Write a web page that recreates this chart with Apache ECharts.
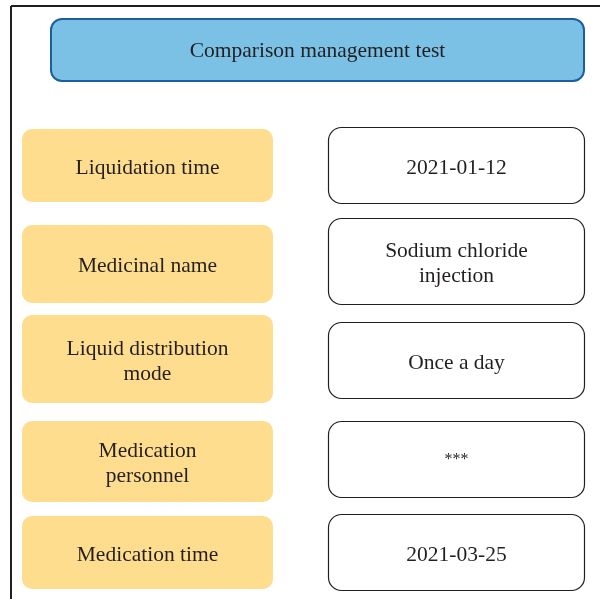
<!DOCTYPE html>
<html>
<head>
<meta charset="utf-8">
<script src="https://cdn.jsdelivr.net/npm/echarts@6/dist/echarts.min.js"></script>
<style>
  html, body { margin: 0; padding: 0; background: #fff; }
  #main { width: 600px; height: 599px; }
</style>
</head>
<body>
<div id="main"></div>
<script>
// diagram text
const titleText = 'Comparison management test';
const itemNames = ['Liquidation time', 'Medicinal name', 'Liquid distribution\nmode', 'Medication\npersonnel', 'Medication time'];
const itemValues = ['2021-01-12', 'Sodium chloride\ninjection', 'Once a day', '***', '2021-03-25'];

// layout (pixels)
const leftBox = { x: 22, w: 251 };
const rightBox = { x: 328, w: 256 };
const leftRows = [[129, 202], [225, 303], [315, 403], [421, 502], [516, 589]];
const rightRows = [[127, 203], [218, 304], [322, 398], [421, 497], [514, 590]];

const font = '"Liberation Serif", "DejaVu Serif", serif';
const fontSize = '21.5px ';
const textColor = '#231f20';

const chart = echarts.init(document.getElementById('main'));

let elements = [
  // frame
  { type: 'line', shape: { x1: 11, y1: 6, x2: 600, y2: 6 }, style: { stroke: textColor, lineWidth: 2 } },
  { type: 'line', shape: { x1: 11, y1: 6, x2: 11, y2: 599 }, style: { stroke: textColor, lineWidth: 2 } },
  // title box
  {
    type: 'rect',
    shape: { x: 51, y: 19, width: 533, height: 62, r: 11 },
    style: { fill: '#7bc1e5', stroke: '#1d5e9e', lineWidth: 2 },
    textContent: { style: { text: titleText, font: fontSize + font, fill: textColor } },
    textConfig: { position: 'inside', offset: [0, 1] }
  }
];

itemNames.forEach(function (name, i) {
  let r = leftRows[i];
  elements.push({
    type: 'rect',
    shape: { x: leftBox.x, y: r[0], width: leftBox.w, height: r[1] - r[0], r: 10 },
    style: { fill: '#fede8e' },
    textContent: { style: { text: name, font: fontSize + font, fill: textColor, align: 'center', lineHeight: 25 } },
    textConfig: { position: 'inside', offset: [0, 2.5] }
  });
});

itemValues.forEach(function (val, i) {
  let r = rightRows[i];
  elements.push({
    type: 'rect',
    shape: { x: rightBox.x + 0.5, y: r[0] + 0.5, width: rightBox.w, height: r[1] - r[0], r: 13 },
    style: { fill: '#fff', stroke: textColor, lineWidth: 1.2 },
    textContent: { style: { text: val, font: (val === '***' ? '16px ' : fontSize) + font, fill: textColor, align: 'center', lineHeight: 25 } },
    textConfig: { position: 'inside', offset: [0, val === '***' ? 0 : 2.5] }
  });
});

chart.setOption({
  animation: false,
  graphic: { elements: elements }
});
</script>
</body>
</html>
